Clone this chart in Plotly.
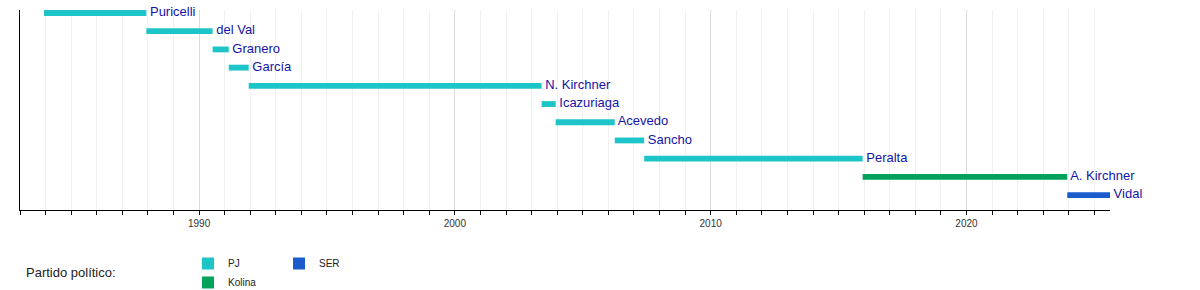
import plotly.graph_objects as go

# Data
names = ["Puricelli", "del Val", "Granero", "García", "N. Kirchner", "Icazuriaga",
         "Acevedo", "Sancho", "Peralta", "A. Kirchner", "Vidal"]
starts = [1983.94, 1987.94, 1990.53, 1991.16, 1991.94, 2003.39,
          2003.94, 2006.25, 2007.40, 2015.94, 2023.94]
ends = [1987.94, 1990.53, 1991.16, 1991.94, 2003.39, 2003.94,
        2006.25, 2007.40, 2015.94, 2023.94, 2025.61]
parties = ["PJ", "PJ", "PJ", "PJ", "PJ", "PJ", "PJ", "PJ", "PJ", "Kolina", "SER"]
party_order = ["PJ", "Kolina", "SER"]
party_colors = {"PJ": "#1ec5c8", "Kolina": "#03a25a", "SER": "#1a5ccc"}
decade_ticks = [1990, 2000, 2010, 2020]
x_range = [1983.0, 2025.61]

FONT = "Liberation Sans, Arial, sans-serif"
rows = list(range(len(names)))

fig = go.Figure()
for p in party_order:
    idx = [i for i, q in enumerate(parties) if q == p]
    fig.add_trace(go.Bar(
        orientation="h",
        y=[rows[i] for i in idx],
        base=[starts[i] for i in idx],
        x=[ends[i] - starts[i] for i in idx],
        width=0.32,
        marker=dict(color=party_colors[p], line=dict(width=0)),
        name=p,
        legend="legend2" if p == "SER" else "legend",
        hoverinfo="skip",
    ))

fig.add_trace(go.Scatter(
    x=ends, y=rows, mode="text", text=[" " + n for n in names],
    textposition="middle right",
    textfont=dict(family=FONT, size=13, color="#1414a6"),
    cliponaxis=False, showlegend=False, hoverinfo="skip",
))

PLOT_W = 1090
fig.update_layout(
    width=1200, height=290,
    margin=dict(l=20, r=90, t=10, b=80, autoexpand=False),
    paper_bgcolor="white", plot_bgcolor="white",
    barmode="overlay",
    font=dict(family=FONT),
    xaxis=dict(
        range=x_range, tickvals=decade_ticks, ticktext=[str(t) for t in decade_ticks],
        showline=True, linecolor="black", linewidth=1,
        ticks="outside", ticklen=4, tickcolor="black",
        showgrid=True, gridcolor="#dcdcdc", gridwidth=1,
        tickfont=dict(family=FONT, size=10, color="#333333"),
        minor=dict(dtick=1, tick0=1990, ticks="outside", ticklen=4, tickcolor="black",
                   showgrid=True, gridcolor="#f1f1f1", gridwidth=1),
        zeroline=False, fixedrange=True,
    ),
    yaxis=dict(
        range=[10.82, -0.165], showticklabels=False, ticks="",
        showline=True, linecolor="black", linewidth=1,
        showgrid=False, zeroline=False, fixedrange=True,
    ),
    legend=dict(
        x=(188 - 20) / PLOT_W, y=1 - 249 / 290, xref="paper", yref="container",
        xanchor="left", yanchor="top", orientation="v",
        font=dict(family=FONT, size=10, color="#222222"),
        bgcolor="rgba(0,0,0,0)", tracegroupgap=0, itemwidth=30,
    ),
    legend2=dict(
        x=(279 - 20) / PLOT_W, y=1 - 249 / 290, xref="paper", yref="container",
        xanchor="left", yanchor="top", orientation="v",
        font=dict(family=FONT, size=10, color="#222222"),
        bgcolor="rgba(0,0,0,0)", tracegroupgap=0, itemwidth=30,
    ),
    annotations=[dict(
        text="Partido político:", x=(24 - 20) / PLOT_W, y=(210 - 272) / 200,
        xref="paper", yref="paper",
        showarrow=False, xanchor="left", yanchor="middle",
        font=dict(family=FONT, size=13, color="#222222"),
    )],
)
fig.write_html("out.html")
